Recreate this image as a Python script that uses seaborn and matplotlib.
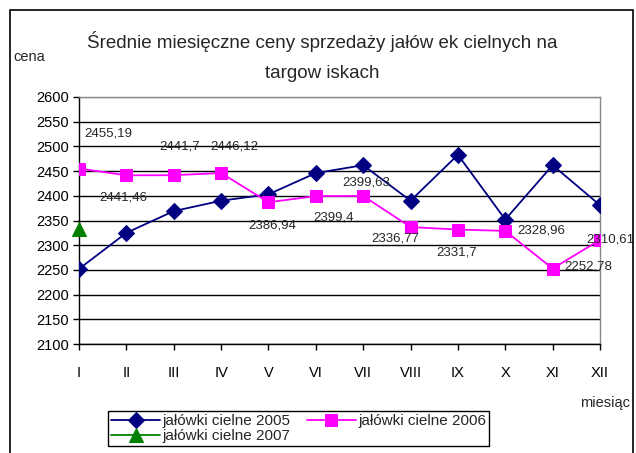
import matplotlib
matplotlib.use("Agg")
import matplotlib.pyplot as plt
import seaborn as sns
import pandas as pd
from matplotlib.patches import Rectangle

months = ["I", "II", "III", "IV", "V", "VI", "VII", "VIII", "IX", "X", "XI", "XII"]
vals_2005 = [2252, 2325, 2369, 2390, 2403, 2446, 2462, 2390, 2483, 2352, 2462, 2381]
vals_2006 = [2455.19, 2441.46, 2441.7, 2446.12, 2386.94, 2399.4, 2399.63, 2336.77,
             2331.7, 2328.96, 2252.78, 2310.61]
vals_2007 = [2332]
labels_2006 = ["2455,19", "2441,46", "2441,7", "2446,12", "2386,94", "2399,4", "2399,63",
               "2336,77", "2331,7", "2328,96", "2252,78", "2310,61"]
yticks = list(range(2100, 2601, 50))

# label offsets in pixels (dx, dy up positive)
label_off = [(29, 35), (-3, -22), (6, 29), (13, 27), (4, -23), (18, -21), (3, 13),
             (-15, -11), (-1, -23), (36, 0), (36, 2), (None, 0)]

sns.set_theme(style="white")
plt.rcParams['font.family'] = ['Liberation Sans', 'DejaVu Sans']

fig = plt.figure(figsize=(6.36, 4.53), dpi=100)
ax = fig.add_axes([79/636, 1-344/453, (600-79)/636, (344-97)/453])

idx = list(range(len(months)))
df05 = pd.DataFrame({"m": idx, "v": vals_2005})
df06 = pd.DataFrame({"m": idx, "v": vals_2006})
df07 = pd.DataFrame({"m": idx[:len(vals_2007)], "v": vals_2007})

for y in yticks:
    ax.axhline(y, color="black" if y != 2600 else "#888888", lw=1, zorder=1)

sns.lineplot(data=df05, x="m", y="v", ax=ax, color="#000080", marker="D", markersize=8.5,
             markeredgecolor="#000080", lw=1.3, label="jałówki cielne 2005", zorder=3)
sns.lineplot(data=df06, x="m", y="v", ax=ax, color="#FF00FF", marker="s", markersize=8.5,
             markeredgecolor="#FF00FF", lw=1.3, label="jałówki cielne 2006", zorder=3)
sns.lineplot(data=df07, x="m", y="v", ax=ax, color="#008000", marker="^", markersize=9.5,
             markeredgecolor="#008000", lw=1.3, label="jałówki cielne 2007", zorder=4,
             clip_on=False)

for i, (lab, v, off) in enumerate(zip(labels_2006, vals_2006, label_off)):
    dx, dy = off
    if dx is None:
        ax.annotate(lab, (i, v), xytext=(-14*0.72, dy*0.72), textcoords="offset points",
                    ha="left", va="center", fontsize=9.5, zorder=6, annotation_clip=False)
    else:
        ax.annotate(lab, (i, v), xytext=(dx*0.72, dy*0.72), textcoords="offset points",
                    ha="center", va="center", fontsize=9.5, zorder=6, annotation_clip=False)

ax.set_xlim(0, 11)
ax.set_ylim(2100, 2600)
ax.set_xticks(idx)
ax.set_xticklabels(months)
ax.set_yticks(yticks)
ax.set_xlabel("")
ax.set_ylabel("")
ax.tick_params(axis="both", labelsize=10.5, colors="black", direction="out", length=4,
               width=1, bottom=True, left=True)
ax.tick_params(axis="x", pad=12)
ax.tick_params(axis="y", pad=3)
for s in ["left", "bottom"]:
    ax.spines[s].set_color("black")
    ax.spines[s].set_linewidth(1)
for s in ["top", "right"]:
    ax.spines[s].set_color("#888888")
    ax.spines[s].set_linewidth(1)

handles, labels = ax.get_legend_handles_labels()
order = [0, 2, 1]
ax.legend_.remove()
leg = fig.legend([handles[k] for k in order], [labels[k] for k in order], ncol=2,
                 loc="lower left", bbox_to_anchor=(108/636, 1-446/453), fontsize=11,
                 frameon=True, fancybox=False, edgecolor="black", framealpha=1,
                 handlelength=3.2, handletextpad=0.15, labelspacing=0.05,
                 columnspacing=1.1, borderpad=0.2, borderaxespad=0)
leg.get_frame().set_linewidth(1)

fig.text(322/636, 1-42/453, "Średnie miesięczne ceny sprzedaży jałów ek cielnych na",
         ha="center", va="center", fontsize=13.5)
fig.text(322/636, 1-74/453, "targow iskach", ha="center", va="center", fontsize=13.5)
fig.text(13/636, 1-57/453, "cena", ha="left", va="center", fontsize=10.5)
fig.text(580/636, 1-403/453, "miesiąc", ha="left", va="center", fontsize=10.5)

fig.patches.append(Rectangle((10/636, -0.05), (633-10)/636, 1.05-10/453, transform=fig.transFigure,
                             fill=False, edgecolor="black", lw=1.2, zorder=0))

fig.savefig("out.png", dpi=100)
